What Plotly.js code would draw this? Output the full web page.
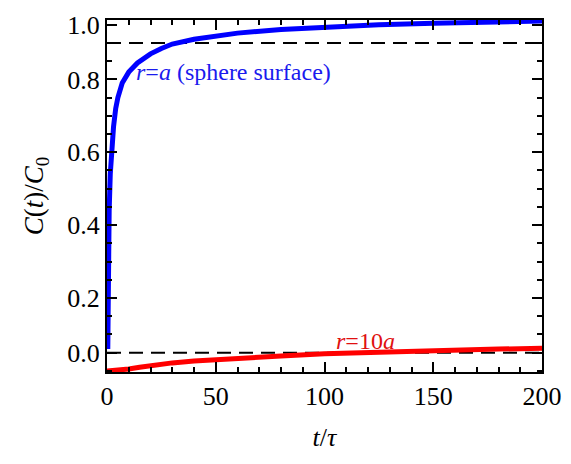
<!DOCTYPE html>
<html>
<head>
<meta charset="utf-8">
<script src="https://cdn.plot.ly/plotly-3.0.1.min.js"></script>
<style>html,body{margin:0;padding:0;background:#fff;}#chart{width:571px;height:464px;}</style>
</head>
<body>
<div id="chart"></div>
<script>
// Sphere surface r=a
const tBlue = [0.36, 0.5, 0.7, 1, 1.5, 2, 3, 4, 5, 7, 10, 14, 20, 25, 30, 40, 50, 60, 80, 100, 125, 150, 175, 200];
const cBlue = [0.06, 0.20, 0.33, 0.44, 0.54, 0.60, 0.67, 0.72, 0.75, 0.79, 0.82, 0.845, 0.87, 0.885, 0.897, 0.91, 0.92, 0.927, 0.937, 0.944, 0.95, 0.954, 0.957, 0.96];
// r=10a
const tRed = [0, 5, 10, 15, 20, 30, 40, 50, 60, 70, 80, 100, 120, 140, 160, 180, 200];
const cRed = [0, 0.001, 0.005, 0.01, 0.015, 0.022, 0.027, 0.031, 0.035, 0.038, 0.041, 0.047, 0.051, 0.054, 0.057, 0.06, 0.062];
// reference dashed levels
const dashLevels = [0.9, 0.05];
const xSpan = [0, 200];
// tick labels
const xTickVals = [0, 50, 100, 150, 200];
const xTickText = ['0', '50', '100', '150', '200'];
const yTickVals = [0.05, 0.2, 0.4, 0.6, 0.8, 0.95];
const yTickText = ['0.0', '0.2', '0.4', '0.6', '0.8', '1.0'];
const yMinorVals = [0, 0.1, 0.15, 0.25, 0.3, 0.35, 0.45, 0.5, 0.55, 0.65, 0.7, 0.75, 0.85, 0.9];

const font = 'Liberation Serif, Times New Roman, serif';

const traces = dashLevels.map(v => ({
  x: xSpan, y: [v, v], mode: 'lines', hoverinfo: 'skip',
  line: {color: '#000', width: 2, dash: '14px,8px'}
}));
traces.push({x: tRed, y: cRed, mode: 'lines', line: {color: '#ff0000', width: 5}});
traces.push({x: tBlue, y: cBlue, mode: 'lines', line: {color: '#0000ff', width: 5}});

const axisCommon = {
  showline: true, linecolor: '#000', linewidth: 2, mirror: 'ticks',
  ticks: 'inside', ticklen: 10, tickwidth: 2, tickcolor: '#000',
  showgrid: false, zeroline: false,
  tickfont: {family: font, size: 26, color: '#000'}
};

const layout = {
  width: 571, height: 464,
  font: {family: font},
  margin: {l: 107, r: 29, t: 20, b: 92},
  paper_bgcolor: '#fff', plot_bgcolor: '#fff',
  showlegend: false,
  xaxis: Object.assign({}, axisCommon, {
    range: [0, 200], tickmode: 'array', tickvals: xTickVals, ticktext: xTickText,
    minor: {dtick: 10, tick0: 0, ticks: 'inside', ticklen: 5, tickwidth: 2, tickcolor: '#000'},
    title: {text: '<i>t</i>/<i>τ</i>', font: {family: font, size: 26, color: '#000'}, standoff: 18}
  }),
  yaxis: Object.assign({}, axisCommon, {
    range: [-0.003, 0.963], tickmode: 'array', tickvals: yTickVals, ticktext: yTickText,
    minor: {tickmode: 'array', tickvals: yMinorVals, ticks: 'inside', ticklen: 5, tickwidth: 2, tickcolor: '#000'},
    title: {text: '<i>C</i>(<i>t</i>)/<i>C</i><sub>0</sub>', font: {family: font, size: 27, color: '#000'}, standoff: 16}
  }),
  annotations: [
    {x: 12.4, y: 0.82, xref: 'x', yref: 'y', xanchor: 'left', yanchor: 'middle', showarrow: false,
     text: '<i>r</i>=<i>a</i> (sphere surface)', font: {family: font, size: 24, color: '#1a1aee'}},
    {x: 118.8, y: 0.082, xref: 'x', yref: 'y', xanchor: 'center', yanchor: 'middle', showarrow: false,
     text: '<i>r</i>=10<i>a</i>', font: {family: font, size: 24, color: '#e01010'}}
  ]
};

Plotly.newPlot('chart', traces, layout, {displayModeBar: false, staticPlot: true});
</script>
</body>
</html>
